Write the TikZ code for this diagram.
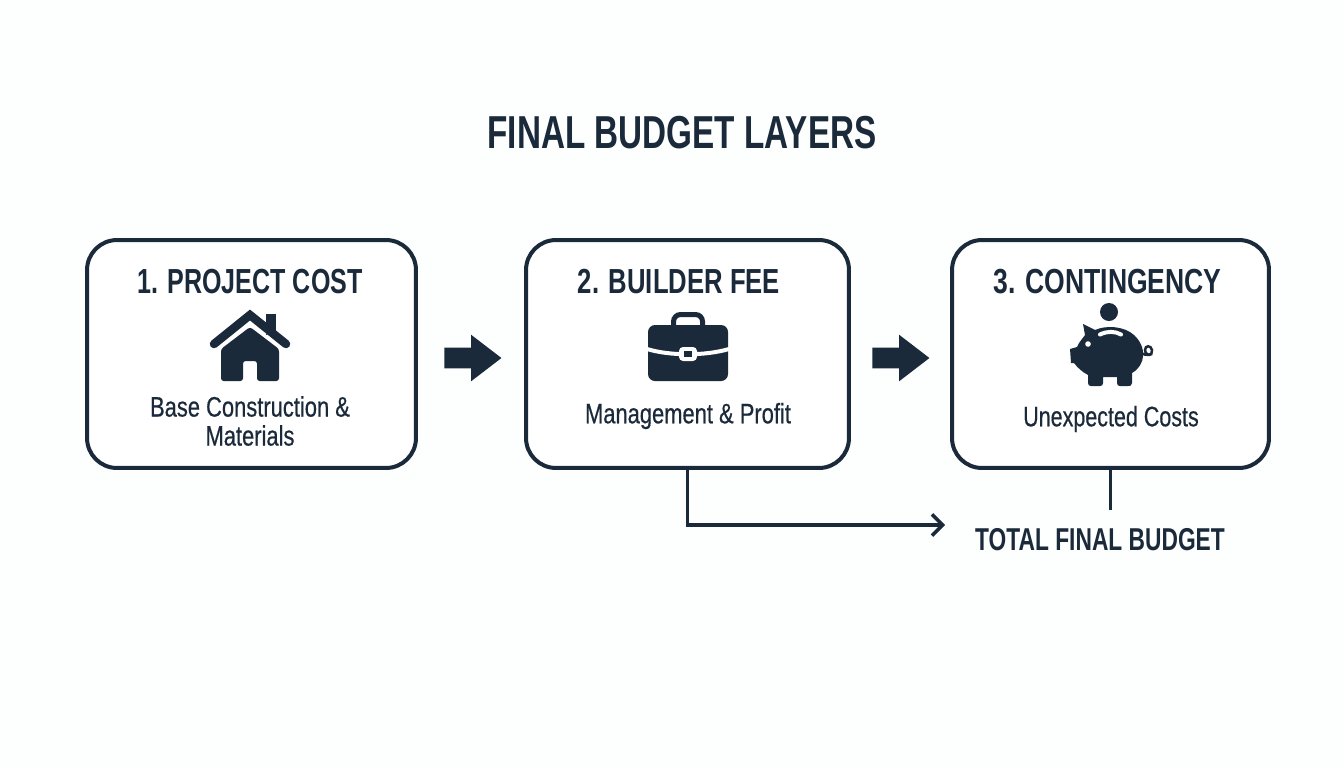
\documentclass[tikz,border=0pt]{standalone}
\usepackage{fontspec}
\setmainfont{Liberation Sans}[FakeStretch=0.72]
\newfontfamily\capfont{Liberation Sans}[FakeStretch=0.78, FakeBold=0.5]
\usetikzlibrary{calc, positioning, arrows.meta, shapes.arrows}
\definecolor{inkblue}{HTML}{1B2A3A}
\definecolor{paper}{HTML}{FDFEFE}

\begin{document}
\begin{tikzpicture}[
    x=0.02cm, y=-0.02cm,
    >={Straight Barb[length=6pt, width=12pt]},
    color=inkblue,
    layerbox/.style={draw=inkblue, line width=0.08cm, rounded corners=0.6cm, inner sep=0pt, fill=white},
    blockarrow/.style={single arrow, anchor=tip, fill=inkblue, inner sep=0pt, text height=0.4cm, text depth=0pt, minimum height=1.14cm, minimum width=0.92cm,
        single arrow head extend=0.26cm, single arrow tip angle=75, single arrow head indent=0pt},
    wire/.style={draw=inkblue, line width=0.07cm},
    heading/.style={font=\fontsize{19.8}{24}\selectfont\bfseries, text=inkblue},
    caption/.style={font=\fontsize{16}{16.5}\selectfont\capfont, text=inkblue, align=center}
]

    % Page
    \fill[paper] (0, 0) rectangle (1344, 768);
    \useasboundingbox (0, 0) rectangle (1344, 768);

    % Title
    \node[font=\fontsize{26.3}{32}\selectfont\bfseries, text=inkblue] (title) at (682, 133) {FINAL BUDGET LAYERS};

    % Boxes
    \node[layerbox, minimum width=6.58cm, minimum height=4.56cm] (boxA) at (251.5, 354) {};
    \node[layerbox, minimum width=6.46cm, minimum height=4.56cm] (boxB) at (687.5, 354) {};
    \node[layerbox, minimum width=6.34cm, minimum height=4.56cm] (boxC) at (1110.5, 354) {};

    % Box texts
    \node[heading] (headA) at (250, 282) {1. PROJECT COST};
    \node[heading, xscale=1.025] (headB) at (679, 282) {2. BUILDER FEE};
    \node[heading, xscale=1.06] (headC) at (1107.5, 282) {3. CONTINGENCY};
    \node[caption] (capA) at (250, 421) {Base Construction \&\\Materials};
    \node[caption] (capB) at (688, 416) {Management \& Profit};
    \node[caption, xscale=0.98] (capC) at (1111, 419) {Unexpected Costs};

    % House
    \fill[inkblue] (266, 314) rectangle (276, 335);
    \draw[paper, line width=0.07cm] (207, 352) -- (250, 319) -- (293, 352);
    \draw[inkblue, line width=0.17cm, line cap=round] (214, 344) -- (250, 315) -- (286, 344);
    \fill[inkblue, rounded corners=1.5pt] (221, 381) -- (221, 349) -- (250, 327) -- (279, 349) -- (279, 381) -- (257, 381) -- (257, 361) -- (243, 361) -- (243, 381) -- cycle;

    % Briefcase
    \draw[inkblue, line width=0.1cm, rounded corners=0.14cm] (673.5, 330) -- (673.5, 314.5) -- (702.5, 314.5) -- (702.5, 330);
    \fill[inkblue, rounded corners=0.14cm] (648, 325) rectangle (728, 381);
    \draw[paper, line width=0.08cm] (647, 349) .. controls (670, 356) and (705, 356) .. (729, 349);
    \fill[paper, rounded corners=0.08cm] (679, 347) rectangle (697, 361);
    \fill[inkblue] (684, 351) rectangle (692, 357);

    % Piggy bank
    \fill[inkblue] (1109, 312) circle (9);
    \fill[inkblue] (1083, 324) -- (1095, 330) .. controls (1106, 325) and (1124, 326) .. (1134, 335)
        .. controls (1147, 347) and (1146, 365) .. (1132, 373) -- (1132, 383) .. controls (1132, 386) and (1130, 386) .. (1128, 386)
        -- (1120, 386) .. controls (1118, 386) and (1117, 385) .. (1117, 383)
        -- (1117, 377) -- (1103, 377) -- (1103, 383) .. controls (1103, 385) and (1102, 386) .. (1100, 386)
        -- (1091, 386) .. controls (1089, 386) and (1088, 385) .. (1088, 383)
        -- (1088, 375) .. controls (1082, 372) and (1077, 367) .. (1074, 363) -- (1071, 363) -- (1070, 349) -- (1077, 347)
        .. controls (1079, 342) and (1083, 338) .. (1085, 335) -- cycle;
    \fill[paper] (1088, 344) circle (2.8);
    \draw[paper, line width=0.08cm, line cap=round] (1100, 334.5) .. controls (1107, 331) and (1115, 331) .. (1121, 334.5);
    \draw[inkblue, line width=0.05cm] (1141, 353) .. controls (1146, 356) and (1153, 356) .. (1152, 350)
        .. controls (1151, 345) and (1145, 345) .. (1145, 350) .. controls (1145, 354) and (1149, 356) .. (1152, 354);

    % Block arrows
    \node[blockarrow] (stepAB) at (502, 358) {};
    \node[blockarrow] (stepBC) at (930, 358) {};

    % Total
    \node[heading, font=\fontsize{18}{24}\selectfont\bfseries] (total) at (1100, 540) {TOTAL FINAL BUDGET};
    \coordinate (arrowend) at (945, 525);
    \coordinate (stubend) at (boxC.south |- 0, 510);
    \draw[wire, ->, line join=miter] (boxB.south) |- (arrowend);
    \draw[wire] (boxC.south) -- (stubend);

\end{tikzpicture}
\end{document}
